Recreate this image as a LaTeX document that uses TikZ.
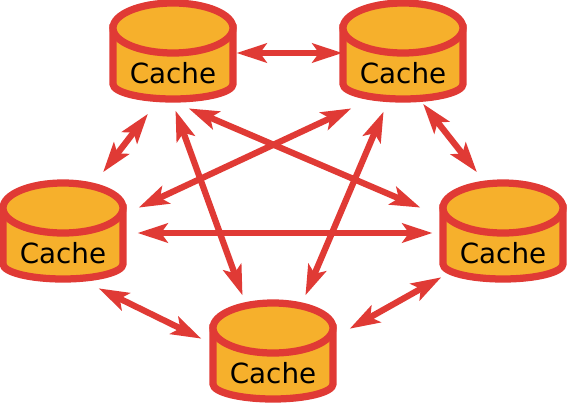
\documentclass[tikz,border=0pt]{standalone}
\usepackage{fontspec}
\setmainfont{DejaVu Sans}
\usetikzlibrary{arrows.meta}
\definecolor{cachered}{HTML}{E03A35}
\definecolor{cachefill}{HTML}{F6B02C}
\tikzset{
  cachedb/.style={draw=cachered, fill=cachefill, line width=0.145cm},
  cachelabel/.style={inner sep=0pt, font=\fontsize{15.8pt}{18pt}\selectfont},
  link/.style={draw=cachered, line width=0.125cm, shorten <=-0.03cm, shorten >=-0.03cm,
    {Stealth[length=0.6cm, width=0.38cm, inset=0.13cm]}-{Stealth[length=0.6cm, width=0.38cm, inset=0.13cm]}},
}
\begin{document}
\begin{tikzpicture}[x=0.02cm, y=-0.02cm]
  \useasboundingbox (0, 0) rectangle (567, 402);
  \foreach \name/\x/\y in {cacheA/173/73, cacheB/403/73, cacheC/63/253, cacheD/503/253, cacheE/273/373} {
    \draw[cachedb] (\x - 60, \y - 45) -- (\x - 60, \y + 11)
      arc[start angle=180, end angle=0, x radius=60, y radius=15] -- (\x + 60, \y - 45) -- cycle;
    \draw[cachedb] (\x, \y - 45) ellipse [x radius=60, y radius=25];
    \node[cachelabel] (\name) at (\x, \y) {Cache};
  }
  \draw[link] ([shift={(65, -20)}]cacheA.center) -- ([shift={(-62, -20)}]cacheB.center);
  \draw[link] ([shift={(-26, 42)}]cacheA.center) -- ([shift={(41, -82)}]cacheC.center);
  \draw[link] ([shift={(21, 32)}]cacheB.center) -- ([shift={(-27, -82)}]cacheD.center);
  \draw[link] ([shift={(76, -20)}]cacheC.center) -- ([shift={(-72, -20)}]cacheD.center);
  \draw[link] ([shift={(37, 36)}]cacheC.center) -- ([shift={(-73, -35)}]cacheE.center);
  \draw[link] ([shift={(78, -45)}]cacheE.center) -- ([shift={(-63, 25)}]cacheD.center);
  \draw[link] ([shift={(3, 39)}]cacheA.center) -- ([shift={(-31, -79)}]cacheE.center);
  \draw[link] ([shift={(-20, 40)}]cacheB.center) -- ([shift={(33, -79)}]cacheE.center);
  \draw[link] ([shift={(17, 36)}]cacheA.center) -- ([shift={(-84, -46)}]cacheD.center);
  \draw[link] ([shift={(-53, 36)}]cacheB.center) -- ([shift={(77, -46)}]cacheC.center);
\end{tikzpicture}
\end{document}
